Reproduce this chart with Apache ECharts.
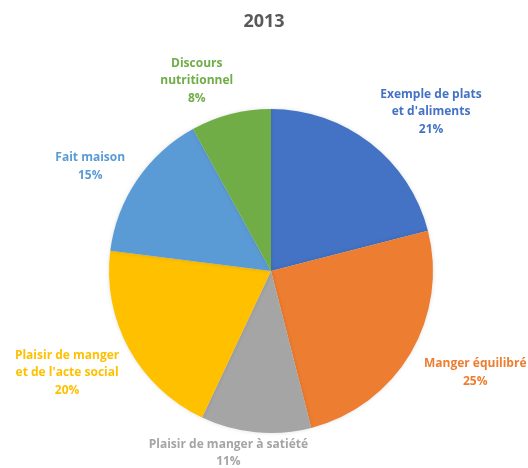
<!DOCTYPE html>
<html><head><meta charset="utf-8">
<script src="https://cdn.jsdelivr.net/npm/echarts@6/dist/echarts.min.js"></script>
<style>html,body{margin:0;padding:0;background:#fff}#c{width:528px;height:468px}</style>
</head><body><div id="c"></div>
<script>
var title = '2013';
var categories = ['Exemple de plats\net d\'aliments', 'Manger équilibré', 'Plaisir de manger à satiété', 'Plaisir de manger\net de l\'acte social', 'Fait maison', 'Discours\nnutritionnel'];
var values = [21, 25, 11, 20, 15, 8];
var colors = ['#4472C4', '#ED7D31', '#A5A5A5', '#FFC000', '#5B9BD5', '#70AD47'];
// label nudges (style only)
var labelShift = [[-6, -17], [-7, 10], [59, 3], [11, 15], [8, -3], [12, -16]];

var chart = echarts.init(document.getElementById('c'), null, {renderer: 'canvas'});
chart.setOption({
  animation: false,
  title: {text: title, left: 'center', top: 8, textStyle: {fontFamily: 'Open Sans', fontSize: 18, fontWeight: 'bold', color: '#595959'}},
  series: [{
    type: 'pie',
    center: [271, 271],
    radius: 162,
    startAngle: 90,
    clockwise: true,
    avoidLabelOverlap: false,
    itemStyle: {borderWidth: 0, shadowBlur: 4, shadowColor: 'rgba(0,0,0,0.12)'},
    label: {show: true, position: 'outside'},
    labelLine: {show: false, length: 18, length2: 0},
    labelLayout: function (p) {
      var s = labelShift[p.dataIndex];
      return {dx: s[0], dy: s[1]};
    },
    data: categories.map(function (c, i) {
      return {
        name: c, value: values[i], itemStyle: {color: colors[i]},
        label: {
          formatter: function (p) {
            return p.name.split('\n').concat([p.percent.toFixed(0) + '%']).map(function (l) { return '{t|' + l + '}'; }).join('\n');
          },
          rich: {t: {color: colors[i], fontFamily: 'Open Sans', fontSize: 12, fontWeight: 'bold', lineHeight: 17.5, align: 'center'}}
        }
      };
    })
  }]
});
</script></body></html>
